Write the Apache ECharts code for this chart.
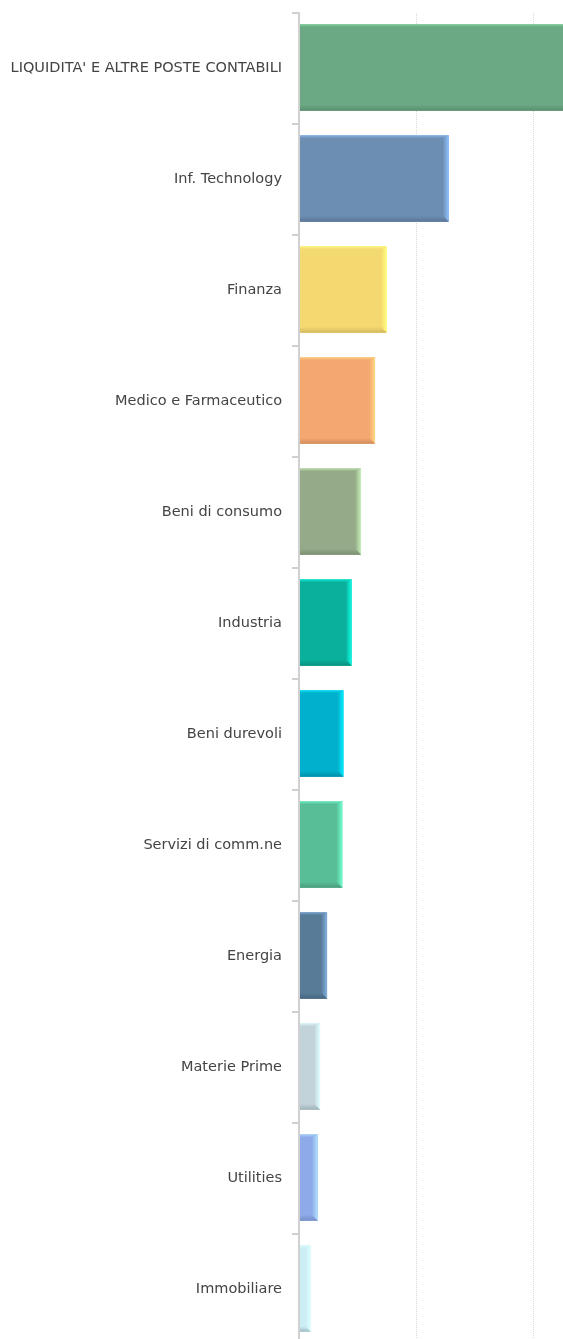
<!DOCTYPE html>
<html>
<head>
<meta charset="utf-8">
<script src="https://cdn.jsdelivr.net/npm/echarts@6/dist/echarts.min.js"></script>
<style>
html,body{margin:0;padding:0;background:#fff;}
#chart{width:563px;height:1339px;}
</style>
</head>
<body>
<div id="chart"></div>
<script>
const categories = ["LIQUIDITA' E ALTRE POSTE CONTABILI","Inf. Technology","Finanza","Medico e Farmaceutico","Beni di consumo","Industria","Beni durevoli","Servizi di comm.ne","Energia","Materie Prime","Utilities","Immobiliare"];
const values = [26, 12.8, 7.5, 6.5, 5.3, 4.5, 3.8, 3.7, 2.4, 1.8, 1.6, 1.0];
const faceColors = ["#6aa983","#6d8eb3","#f4d870","#f4a870","#94aa88","#0ab09c","#00b0cc","#58be98","#587b98","#c2d4da","#8eaae8","#caeef4"];
const lightColors = ["#80d89c","#8fc2ff","#ffff80","#ffd880","#c8f0b8","#10ffe8","#00eeff","#70ffd0","#80b0e0","#e0ffff","#b0e0ff","#e0ffff"];
const darkColors = ["#5a8f6f","#5a7596","#d2b85e","#cf8e5e","#7c8f72","#08917f","#0090a8","#489c7d","#476680","#9fb2b6","#7590c8","#a0bcc0"];
const xTicks = [0, 10, 20, 30];

const chart = echarts.init(document.getElementById('chart'));
const data = values.map((v, i) => [v, i]);
chart.setOption({
  animation: false,
  grid: {left: 299, top: 13, height: 1332, width: 351, containLabel: false, outerBoundsMode: 'none'},
  xAxis: {
    type: 'value', min: xTicks[0], max: xTicks[xTicks.length-1], interval: 10,
    axisLine: {show: false}, axisTick: {show: false}, axisLabel: {show: false},
    splitLine: {show: true, lineStyle: {color: '#d8d8d8', type: [1, 1], width: 1}}
  },
  yAxis: {
    type: 'category', data: categories, inverse: true,
    axisLabel: {margin: 17, color: '#444', fontSize: 14.5, fontFamily: 'DejaVu Sans', padding: [4, 0, 0, 0]},
    axisLine: {show: true, lineStyle: {color: '#d0d0d0', width: 2}},
    axisTick: {show: true, length: 7, lineStyle: {color: '#d0d0d0', width: 2}}
  },
  series: [{
    type: 'custom',
    data: data,
    encode: {x: 0, y: 1},
    renderItem: function (params, api) {
      const i = api.value(1);
      const s = api.coord([0, i]);
      const e = api.coord([api.value(0), i]);
      const band = api.size([0, 1])[1];
      const h = band * 0.78;
      const x0 = s[0] + 1, x1 = e[0];
      const y0 = s[1] - h / 2 - 1, y1 = y0 + h;
      const b = Math.min(6, (x1 - x0) / 2);
      const t = 3;
      return {
        type: 'group',
        children: [
          {type: 'rect', shape: {x: x0, y: y0, width: x1 - x0, height: h}, style: {fill: faceColors[i]}},
          {type: 'polygon', shape: {points: [[x0, y0], [x1, y0], [x1 - b, y0 + t], [x0, y0 + t]]}, style: {fill: new echarts.graphic.LinearGradient(0, 0, 0, 1, [{offset: 0, color: lightColors[i]}, {offset: 1, color: faceColors[i]}]), opacity: 0.8}},
          {type: 'polygon', shape: {points: [[x1, y0], [x1, y1], [x1 - b, y1 - b], [x1 - b, y0 + t]]}, style: {fill: new echarts.graphic.LinearGradient(0, 0, 1, 0, [{offset: 0, color: faceColors[i]}, {offset: 1, color: lightColors[i]}])}},
          {type: 'polygon', shape: {points: [[x0, y1], [x1, y1], [x1 - b, y1 - b], [x0, y1 - b]]}, style: {fill: new echarts.graphic.LinearGradient(0, 0, 0, 1, [{offset: 0, color: faceColors[i]}, {offset: 1, color: darkColors[i]}])}}
        ]
      };
    }
  }]
});
</script>
</body>
</html>
